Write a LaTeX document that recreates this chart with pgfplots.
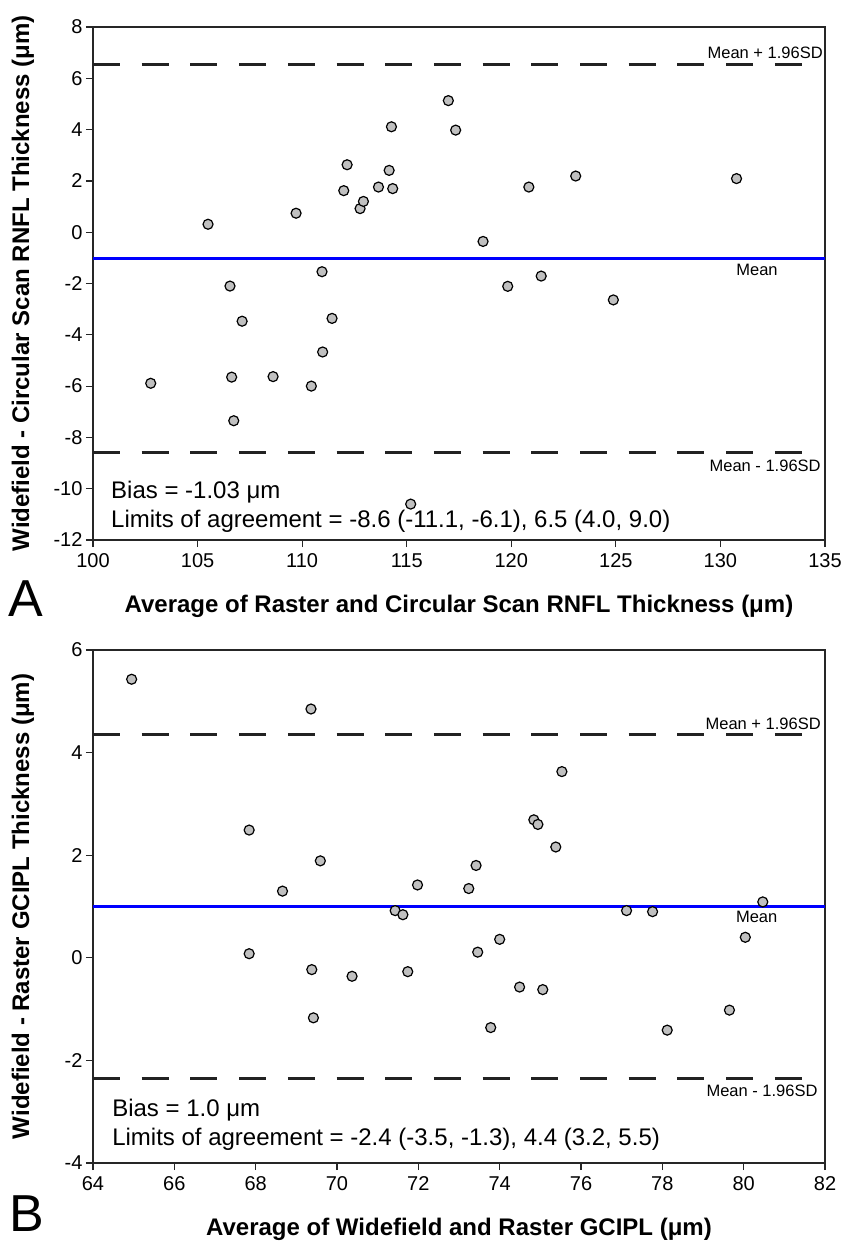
\documentclass[border=0pt]{standalone}
\usepackage{fontspec}
\setmainfont{Liberation Sans}
\usepackage{pgfplots}
\pgfplotsset{compat=1.18}

\definecolor{ptgray}{RGB}{192,192,192}
\definecolor{dashgray}{RGB}{34,34,34}

\pgfplotsset{
  ba/.style={
    width=732pt, height=513pt, scale only axis,
    anchor=north west, clip=false,
    axis line style={line width=1.3pt, black!85},
    tick align=outside, major tick length=7pt, tick pos=left,
    tick style={line width=1.2pt, black!85},
    /pgf/number format/assume math mode=true,
    tick label style={font=\fontsize{20}{23}\selectfont},
    xticklabel style={yshift=-3pt},
    label style={font=\bfseries\fontsize{24}{28}\selectfont},
    xlabel style={at={(axis description cs:0.5,-0.1404)}, anchor=base},
    ylabel style={at={(axis description cs:-0.0956,0.5)}, anchor=center},
  },
  pts/.style={only marks, mark=*, mark size=5pt,
    mark options={fill=ptgray, draw=black, line width=1.2pt}},
  meanline/.style={blue, line width=2.6pt, no marks},
  sdline/.style={dashgray, line width=2.8pt, dash pattern=on 27pt off 21.7pt, no marks},
}
\tikzset{
  txt/.style={font=\fontsize{24}{28}\selectfont, anchor=base west, inner sep=0pt},
  sdtxt/.style={font=\fontsize{16.5}{19}\selectfont, inner sep=0pt},
  panel/.style={font=\fontsize{52}{58}\selectfont, anchor=base west, inner sep=0pt},
}

\begin{document}
\begin{tikzpicture}
\path[use as bounding box] (0,0) rectangle (843pt,-1243pt);

% Panel A
\begin{axis}[ba, at={(93pt,-27pt)},
  xmin=100, xmax=135, ymin=-12, ymax=8,
  xtick={100,105,...,135}, ytick={-12,-10,...,8},
  xlabel={Average of Raster and Circular Scan RNFL Thickness (μm)},
  ylabel={Widefield - Circular Scan RNFL Thickness (μm)},
]
\addplot[sdline] coordinates {(100,6.55) (133.95,6.55)};
\addplot[sdline] coordinates {(100,-8.59) (133.95,-8.59)};
\addplot[meanline] coordinates {(100,-1.03) (135,-1.03)};
\addplot[pts] coordinates {
  (105.50,0.31) (106.55,-2.10) (109.71,0.74) (110.95,-1.54) (111.99,1.62)
  (112.15,2.63) (112.77,0.92) (112.93,1.20) (113.65,1.76) (114.16,2.41)
  (114.27,4.11) (114.33,1.70) (116.99,5.13) (117.34,3.98) (120.84,1.76)
  (123.08,2.19) (130.77,2.09) (118.65,-0.36) (119.83,-2.11) (121.43,-1.71)
  (124.88,-2.64) (107.13,-3.47) (111.43,-3.36) (110.98,-4.67) (102.76,-5.89)
  (106.63,-5.65) (108.61,-5.63) (110.44,-6.00) (106.73,-7.35) (115.19,-10.60)
};
\node[sdtxt, anchor=base east] at (axis cs:134.9,6.79) {Mean + 1.96SD};
\node[sdtxt, anchor=base] at (axis cs:131.75,-1.67) {Mean};
\node[sdtxt, anchor=base east] at (axis cs:134.8,-9.31) {Mean - 1.96SD};
\node[txt] at (axis cs:100.86,-10.40) {Bias = -1.03 μm};
\node[txt] at (axis cs:100.86,-11.53) {Limits of agreement = -8.6 (-11.1, -6.1), 6.5 (4.0, 9.0)};
\node[panel] at (axis description cs:-0.116,-0.150) {A};
\end{axis}

% Panel B
\begin{axis}[ba, at={(93pt,-650pt)},
  xmin=64, xmax=82, ymin=-4, ymax=6,
  xtick={64,66,...,82}, ytick={-4,-2,...,6},
  xlabel={Average of Widefield and Raster GCIPL (μm)},
  ylabel={Widefield - Raster GCIPL Thickness (μm)},
]
\addplot[sdline] coordinates {(64,4.36) (81.45,4.36)};
\addplot[sdline] coordinates {(64,-2.36) (81.45,-2.36)};
\addplot[meanline] coordinates {(64,1.0) (82,1.0)};
\addplot[pts] coordinates {
  (64.95,5.43) (69.36,4.85) (67.84,2.49) (69.59,1.89) (68.66,1.30)
  (71.98,1.42) (71.43,0.92) (71.62,0.84) (73.24,1.35) (67.84,0.08)
  (75.53,3.63) (74.84,2.69) (74.94,2.60) (75.38,2.16) (73.42,1.80)
  (77.12,0.92) (77.76,0.90) (80.47,1.09) (80.04,0.40) (74.00,0.36)
  (73.46,0.11) (69.38,-0.23) (70.37,-0.36) (71.74,-0.27) (69.42,-1.17)
  (74.49,-0.57) (75.06,-0.62) (73.78,-1.36) (78.12,-1.41) (79.65,-1.02)
};
\node[sdtxt, anchor=base east] at (axis cs:81.9,4.46) {Mean + 1.96SD};
\node[sdtxt, anchor=base] at (axis cs:80.32,0.68) {Mean};
\node[sdtxt, anchor=base east] at (axis cs:81.82,-2.71) {Mean - 1.96SD};
\node[txt] at (axis cs:64.47,-3.10) {Bias = 1.0 μm};
\node[txt] at (axis cs:64.47,-3.66) {Limits of agreement = -2.4 (-3.5, -1.3), 4.4 (3.2, 5.5)};
\node[panel] at (axis description cs:-0.114,-0.134) {B};
\end{axis}
\end{tikzpicture}
\end{document}
